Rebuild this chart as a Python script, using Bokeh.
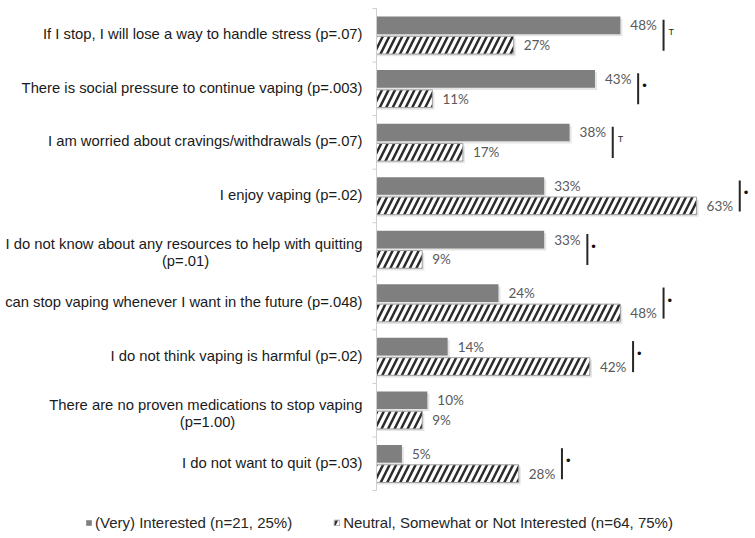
from bokeh.plotting import figure
from bokeh.models import Range1d, Legend, LegendItem
from bokeh.embed import file_html
from bokeh.resources import INLINE
from bokeh.core.properties import value

reasons = [
    "If I stop, I will lose a way to handle stress (p=.07)",
    "There is social pressure to continue vaping (p=.003)",
    "I am worried about cravings/withdrawals (p=.07)",
    "I enjoy vaping (p=.02)",
    "I do not know about any resources to help with quitting\n(p=.01)",
    "can stop vaping whenever I want in the future (p=.048)",
    "I do not think vaping is harmful (p=.02)",
    "There are no proven medications to stop vaping\n(p=1.00)",
    "I do not want to quit (p=.03)",
]
interested = [48, 43, 38, 33, 33, 24, 14, 10, 5]
not_interested = [27, 11, 17, 63, 9, 48, 42, 9, 28]
sig = ["T", "*", "T", "*", "*", "*", "*", "", "*"]
legend_labels = ["(Very) Interested (n=21, 25%)",
                 "Neutral, Somewhat or Not Interested (n=64, 75%)"]

n = len(reasons)
ypos = [n - i - 0.5 for i in range(n)]
bar_h = 0.33
off = 0.185

p = figure(width=755, height=538, x_range=Range1d(-74.02, 74.6), y_range=Range1d(-0.896, 9.149),
           output_backend="svg", toolbar_location=None, min_border=0)
p.outline_line_color = None
p.axis.visible = False
p.grid.visible = False

# drop shadows
y_top = [y + off for y in ypos]
y_bot = [y - off for y in ypos]
p.hbar(y=[y - 0.04 for y in y_top], left=0, right=[v + 0.4 for v in interested], height=bar_h,
       fill_color="black", fill_alpha=0.1, line_color=None)
p.hbar(y=[y - 0.04 for y in y_bot], left=0, right=[v + 0.4 for v in not_interested], height=bar_h,
       fill_color="black", fill_alpha=0.1, line_color=None)

solid = p.hbar(y=y_top, left=0, right=interested, height=bar_h, fill_color="#7f7f7f", line_color=None)
hatched = p.hbar(y=y_bot, left=0, right=not_interested, height=bar_h, fill_color="white",
                 line_color="#a0a0a0", line_width=1, hatch_pattern="/", hatch_color="#2b2b2b",
                 hatch_scale=13, hatch_weight=2.5)

# axis line with ticks at the group boundaries
p.segment(x0=0, y0=0, x1=0, y1=n, line_color="#cfcfcf", line_width=1)
p.segment(x0=[-0.8] * (n + 1), y0=list(range(n + 1)), x1=[0] * (n + 1), y1=list(range(n + 1)),
          line_color="#cfcfcf", line_width=1)

# value labels
lab_font = value("Lato")
p.text(x=interested, y=y_top, text=[f"{v}%" for v in interested], x_offset=10,
       text_font=lab_font, text_font_size="13.5px", text_color="#595959", text_baseline="middle")
p.text(x=not_interested, y=y_bot, text=[f"{v}%" for v in not_interested], x_offset=10,
       text_font=lab_font, text_font_size="13.5px", text_color="#595959", text_baseline="middle")

# category labels
cat_font = value("Liberation Sans")
first_lines, first_y, first_dy = [], [], []
second_lines, second_y, second_dx = [], [], []
first_w = {4: 354, 7: 310}
for i, r in enumerate(reasons):
    parts = r.split("\n")
    first_lines.append(parts[0])
    first_y.append(ypos[i])
    if len(parts) > 1:
        first_dy.append(-5)
        second_lines.append(parts[1])
        second_y.append(ypos[i])
        second_dx.append(-14 - first_w[i] / 2)
    else:
        first_dy.append(-1)
p.text(x=0, y=first_y, text=first_lines, x_offset=-14, y_offset=first_dy,
       text_font=cat_font, text_font_size="14.8px", text_color="#1a1a1a",
       text_align="right", text_baseline="middle")
p.text(x=0, y=second_y, text=second_lines, x_offset=second_dx, y_offset=12,
       text_font=cat_font, text_font_size="14.8px", text_color="#1a1a1a",
       text_align="center", text_baseline="middle")

# significance brackets
bx, by0, by1 = [], [], []
t_x, t_y, d_x, d_y = [], [], [], []
for i, s in enumerate(sig):
    if not s:
        continue
    x = max(interested[i], not_interested[i]) + 8.5
    bx.append(x)
    by0.append(ypos[i] - 0.29)
    by1.append(ypos[i] + 0.29)
    if s == "T":
        t_x.append(x)
        t_y.append(ypos[i])
    else:
        d_x.append(x)
        d_y.append(ypos[i])
p.segment(x0=bx, y0=by0, x1=bx, y1=by1, line_color="#262626", line_width=2)
p.text(x=t_x, y=t_y, text=["T"] * len(t_x), x_offset=5, y_offset=-3, text_font=cat_font,
       text_font_size="9px", text_color="#262626", text_baseline="middle")
p.text(x=d_x, y=d_y, text=["\u2022"] * len(d_x), x_offset=4, y_offset=-3, text_font=cat_font,
       text_font_size="13px", text_color="#111111", text_baseline="middle")

legend = Legend(items=[LegendItem(label=legend_labels[0], renderers=[solid]),
                       LegendItem(label=legend_labels[1], renderers=[hatched])],
                orientation="horizontal", location=(85, 7), padding=0, margin=0,
                spacing=41, label_standoff=3, glyph_width=7, glyph_height=7,
                label_height=16, label_text_font="Liberation Sans",
                label_text_font_size="15px", label_text_color="#262626",
                border_line_alpha=0, background_fill_alpha=0)
p.add_layout(legend)

open("out.html", "w").write(file_html(p, INLINE))
